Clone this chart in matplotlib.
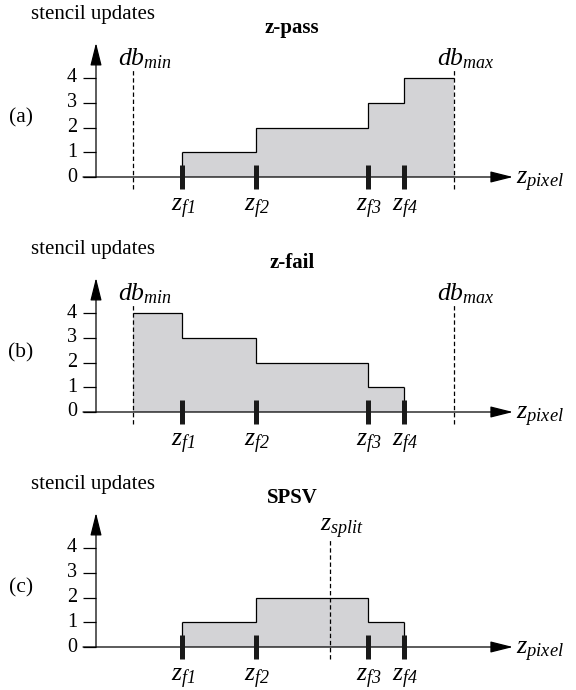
import matplotlib.pyplot as plt

plt.rcParams['font.family'] = ['Liberation Serif', 'DejaVu Serif']
plt.rcParams['mathtext.fontset'] = 'custom'
# all math labels in the figure are italic, digits included
plt.rcParams['mathtext.it'] = 'Liberation Serif:italic'
plt.rcParams['mathtext.rm'] = 'Liberation Serif:italic'

# z positions along the pixel depth axis (y axis sits at 0)
db_min = 37
db_max = 358
z_split = 234
z_frags = [86, 160, 272, 308]
frag_labels = [r'$z_{f1}$', r'$z_{f2}$', r'$z_{f3}$', r'$z_{f4}$']

# stencil updates per interval
pass_edges = [z_frags[0], z_frags[1], z_frags[2], z_frags[3], db_max]
pass_counts = [1, 2, 3, 4]
fail_edges = [db_min, z_frags[0], z_frags[1], z_frags[2], z_frags[3]]
fail_counts = [4, 3, 2, 1]
spsv_edges = [z_frags[0], z_frags[1], z_frags[2], z_frags[3]]
spsv_counts = [1, 2, 1]

yticks = [0, 1, 2, 3, 4]
titles = ['z-pass', 'z-fail', 'SPSV']
tags = ['(a)', '(b)', '(c)']

FILL = '#d3d3d6'
BAR = '#1a1a1a'
UNIT = 24.75        # pixels per stencil update
baselines = [177, 412, 647]   # pixel row of zero line per panel

fig = plt.figure(figsize=(5.76, 6.9), dpi=100)


def make_axes(i):
  ax = fig.add_axes([0, 1 - 230 * (i + 1) / 690, 1, 230 / 690])
  ax.set_xlim(-96, 480)
  top = (baselines[i] - 230 * i) / UNIT
  bottom = -(230 * (i + 1) - baselines[i]) / UNIT
  ax.set_ylim(bottom, top)
  ax.axis('off')
  return ax


def dashed(ax, x, label):
  ax.vlines(x, -0.5, 4.35, colors='black', lw=0.9, linestyles=(0, (3.5, 2.2)), zorder=4)
  ax.text(x + 12, 4.3, label, ha='center', va='bottom', fontsize=18.5)


def draw_panel(ax, i, edges, counts, close_left, close_right):
  ax.stairs(counts, edges, baseline=0, fill=True, color=FILL, lw=0, zorder=1)
  ax.stairs(counts, edges, baseline=None, color='black', lw=0.9, zorder=2)
  if close_left:
    ax.vlines(edges[0], 0, counts[0], colors='black', lw=0.9, zorder=2)
  if close_right:
    ax.vlines(edges[-1], 0, counts[-1], colors='black', lw=0.9, zorder=2)

  # axes with arrows
  arrow = dict(arrowstyle='-|>,head_length=1.0,head_width=0.25', mutation_scale=14,
               lw=0.9, color='black', shrinkA=0, shrinkB=0)
  ax.annotate('', xy=(0, 5.42), xytext=(0, 0), arrowprops=arrow, zorder=3)
  ax.annotate('', xy=(417, 0), xytext=(-13, 0), arrowprops=arrow, zorder=3)
  ax.hlines(yticks, -13, 0, colors='black', lw=0.9)
  for v in yticks:
    ax.text(-19, v, str(v), ha='right', va='center', fontsize=14.5)

  # fragment depths
  ax.vlines(z_frags, -0.49, 0.49, colors=BAR, lw=3.6, zorder=5)
  for z, lab in zip(z_frags, frag_labels):
    ax.text(z + 1, -0.8, lab, ha='center', va='top', fontsize=18.5)
  ax.text(420, -0.2, r'$z_{pixel}$', ha='left', va='center', fontsize=19)

  ax.text(-65, 6.57, 'stencil updates', ha='left', va='center', fontsize=15)
  ax.text(196, 6.02, titles[i], ha='center', va='center', fontsize=15, fontweight='bold')
  ax.text(-75, 2.4, tags[i], ha='center', va='center', fontsize=15.5)


ax_a = make_axes(0)
draw_panel(ax_a, 0, pass_edges, pass_counts, True, False)
dashed(ax_a, db_min, r'$db_{min}$')
dashed(ax_a, db_max, r'$db_{max}$')

ax_b = make_axes(1)
draw_panel(ax_b, 1, fail_edges, fail_counts, False, True)
dashed(ax_b, db_min, r'$db_{min}$')
dashed(ax_b, db_max, r'$db_{max}$')

ax_c = make_axes(2)
draw_panel(ax_c, 2, spsv_edges, spsv_counts, True, True)
dashed(ax_c, z_split, r'$z_{split}$')

fig.savefig('out.png', dpi=100)
